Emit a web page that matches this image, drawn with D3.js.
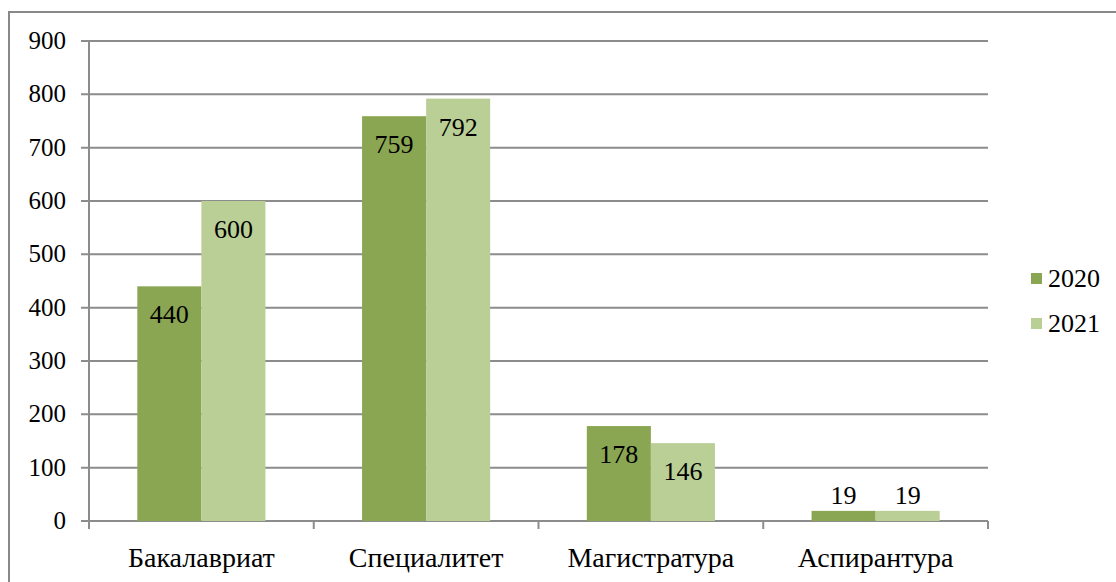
<!DOCTYPE html>
<html><head><meta charset="utf-8">
<script src="https://cdn.jsdelivr.net/npm/d3@7"></script>
<style>body{margin:0;background:#fff}svg{display:block}</style>
</head><body><svg id="c" width="1116" height="582"></svg>
<script>
const categories = ["Бакалавриат","Специалитет","Магистратура","Аспирантура"];
const seriesNames = ["2020","2021"];
const values2020 = [440,759,178,19];
const values2021 = [600,792,146,19];
const yTicks = [0,100,200,300,400,500,600,700,800,900];
const colors = ["#8aa652","#bacf96"];

const svg = d3.select("#c");
const FF = "Liberation Serif";
function txt(sel){ return sel.append("text").attr("font-family",FF).attr("fill","#000"); }
const L=89,R=988,T=41,B=521;
svg.append("rect").attr("x",9).attr("y",12).attr("width",1120).attr("height",600)
  .attr("fill","none").attr("stroke","#888").attr("stroke-width",2);
const x = d3.scaleBand().domain(categories).range([L,R]);
const y = d3.scaleLinear().domain([0,900]).range([B,T]);
const g = svg.append("g");
yTicks.forEach(t=>{
  g.append("line").attr("x1",81).attr("x2",R).attr("y1",y(t)).attr("y2",y(t)).attr("stroke","#8c8c8c").attr("stroke-width",2);
  txt(g).attr("x",66).attr("y",y(t)+8).attr("text-anchor","end").attr("font-size",25).text(t);
});
g.append("line").attr("x1",L).attr("x2",L).attr("y1",T).attr("y2",B+8).attr("stroke","#8c8c8c").attr("stroke-width",2);
categories.forEach(c=>{
  g.append("line").attr("x1",x(c)).attr("x2",x(c)).attr("y1",B).attr("y2",B+8).attr("stroke","#8c8c8c").attr("stroke-width",2);
});
g.append("line").attr("x1",R).attr("x2",R).attr("y1",B).attr("y2",B+8).attr("stroke","#8c8c8c").attr("stroke-width",2);
const bw = x.bandwidth()*0.285;
const off = (x.bandwidth()-2*bw)/2;
const series=[values2020,values2021];
series.forEach((vals,si)=>{
  vals.forEach((v,i)=>{
    const bx = x(categories[i])+off+si*bw;
    g.append("rect").attr("x",bx).attr("y",y(v)).attr("width",bw).attr("height",B-y(v)).attr("fill",colors[si]);
    const inside = (B-y(v))>50;
    txt(g).attr("x",bx+bw/2).attr("y",inside? y(v)+37 : y(v)-7).attr("text-anchor","middle")
      .attr("font-size",26).text(v);
  });
});
categories.forEach(c=>{
  txt(g).attr("x",x(c)+x.bandwidth()/2).attr("y",567).attr("text-anchor","middle")
   .attr("font-size",28).text(c);
});
seriesNames.forEach((s,i)=>{
  const base=287+i*45;
  g.append("rect").attr("x",1031).attr("y",base-14).attr("width",11).attr("height",11).attr("fill",colors[i]);
  txt(g).attr("x",1048).attr("y",base).attr("font-size",26).text(s);
});
</script></body></html>
